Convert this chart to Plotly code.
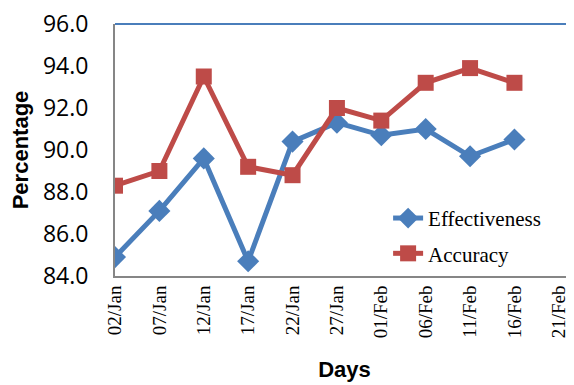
import plotly.graph_objects as go

days = ["2013-01-02", "2013-01-07", "2013-01-12", "2013-01-17", "2013-01-22",
        "2013-01-27", "2013-02-01", "2013-02-06", "2013-02-11", "2013-02-16"]
effectiveness = [84.9, 87.1, 89.6, 84.7, 90.4, 91.3, 90.7, 91.0, 89.7, 90.5]
accuracy = [88.3, 89.0, 93.5, 89.2, 88.8, 92.0, 91.4, 93.2, 93.9, 93.2]
y_ticks = [84.0, 86.0, 88.0, 90.0, 92.0, 94.0, 96.0]

BLUE = "#4A7EBB"
RED = "#BE4B48"
GRAY = "#868686"

fig = go.Figure()
fig.add_trace(go.Scatter(
    x=days, y=effectiveness, name="Effectiveness", mode="lines+markers",
    line=dict(color=BLUE, width=5),
    marker=dict(symbol="diamond", size=17, color=BLUE),
    legendgroup="a",
))
fig.add_trace(go.Scatter(
    x=days, y=accuracy, name="Accuracy", mode="lines+markers",
    line=dict(color=RED, width=5),
    marker=dict(symbol="square", size=16, color=RED),
    legendgroup="b",
))

fig.update_layout(
    width=574, height=385,
    margin=dict(l=107, r=8, t=16, b=117, autoexpand=False),
    paper_bgcolor="white", plot_bgcolor="white",
    showlegend=True,
    legend=dict(
        x=0.595, y=0.31, xanchor="left", yanchor="top",
        font=dict(family="Liberation Serif", size=21, color="black"),
        bgcolor="rgba(0,0,0,0)", tracegroupgap=5,
    ),
    shapes=[dict(type="line", xref="paper", yref="paper", x0=0, x1=1, y0=1, y1=1,
                 line=dict(color=BLUE, width=2))],
)

fig.update_xaxes(
    type="date", automargin=False,
    range=["2013-01-02", "2013-02-22 17:00"],
    tick0="2013-01-02", dtick=5 * 86400000,
    tickformat="%d/%b", tickangle=-90,
    tickfont=dict(family="Liberation Serif", size=19, color="black"),
    showgrid=False, showline=True, linecolor=GRAY, linewidth=2,
    ticks="", ticklen=0, ticklabelstandoff=0, ticklabeloverflow="allow",
    title=dict(text="<b>Days</b>", font=dict(family="Liberation Sans", size=22, color="black"), standoff=24),
)
fig.update_yaxes(
    range=[84, 96], automargin=False,
    tickvals=y_ticks, ticktext=[f"{v:.1f}" for v in y_ticks],
    tickfont=dict(family="Open Sans", size=23, color="black"),
    showgrid=False, showline=True, linecolor=GRAY, linewidth=2,
    zeroline=False, ticks="", ticklen=0, ticklabelstandoff=20, ticklabeloverflow="allow",
    title=dict(text="<b>Percentage</b>", font=dict(family="Liberation Sans", size=22, color="black"), standoff=14),
)

fig.write_html("out.html")
